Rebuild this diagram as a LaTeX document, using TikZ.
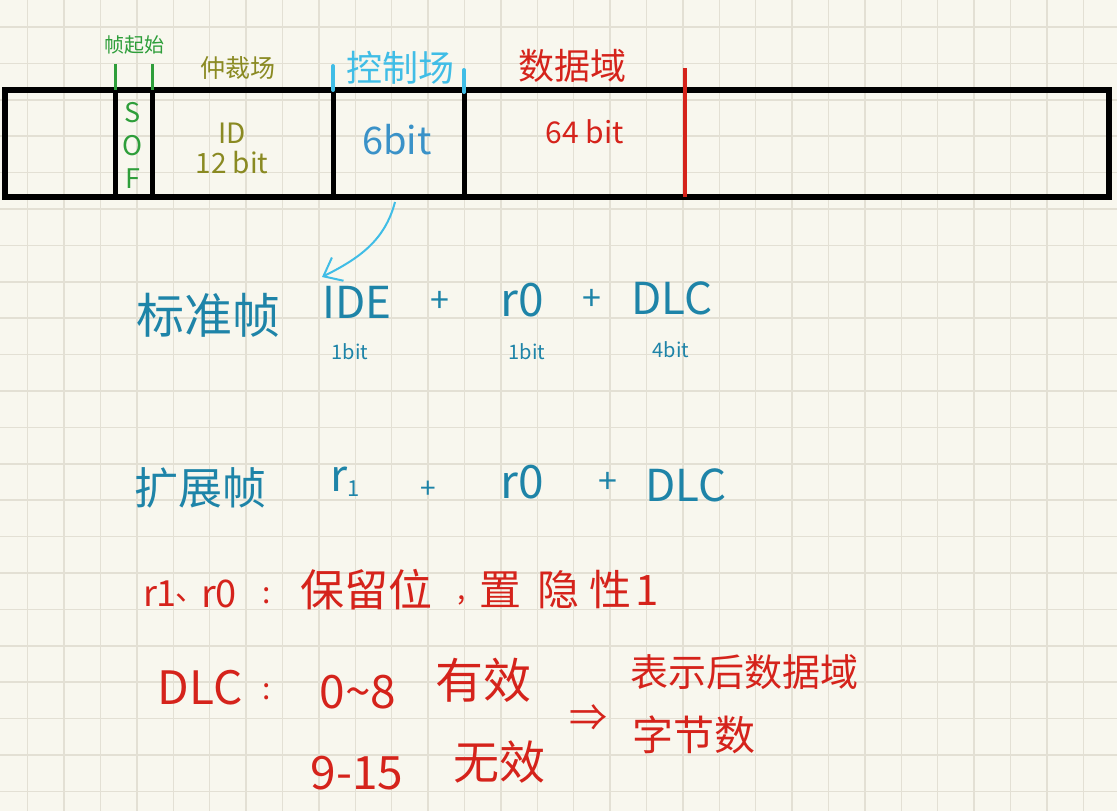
\documentclass[tikz,border=0pt]{standalone}
\usepackage{fontspec}
\setmainfont{Noto Sans CJK SC}
\usetikzlibrary{arrows.meta}
\definecolor{paper}{HTML}{F8F7EE}
\definecolor{gridc}{HTML}{E3E0D4}
\definecolor{sofgreen}{HTML}{2E9E3A}
\definecolor{inkolive}{HTML}{8A8A22}
\definecolor{ctrlcyan}{HTML}{40BDE6}
\definecolor{bitblue}{HTML}{3A92C8}
\definecolor{inkteal}{HTML}{1E84A8}
\definecolor{inkred}{HTML}{D5231B}
\newcommand{\myfs}[1]{\fontsize{#1}{#1}\selectfont}
\newcommand{\lowone}{\raisebox{-0.12em}{\myfs{22}1}}
\begin{document}
\begin{tikzpicture}[x=1pt,y=-1pt,
  frame/.style={draw=black,line width=6pt},
  divider/.style={draw=black,line width=5pt},
  txt/.style={inner sep=0pt,anchor=center},
  greentxt/.style={txt,text=sofgreen},
  olivetxt/.style={txt,text=inkolive},
  cyantxt/.style={txt,text=ctrlcyan},
  tealtxt/.style={txt,text=inkteal},
  redtxt/.style={txt,text=inkred}]
\fill[paper] (0,0) rectangle (1117,811);
\useasboundingbox (0,0) rectangle (1117,811);
\foreach \i in {0,...,29} \draw[gridc,line width=1.5pt] ({27.7+36.4*\i},0) -- ++(0,811);
\foreach \j in {0,...,21} \draw[gridc,line width=1.5pt] (0,{27+36.4*\j}) -- ++(1117,0);

% frame
\draw[frame] (5,90) rectangle (1109,197);
\draw[divider] (115,90) -- (115,197);
\draw[divider] (152,90) -- (152,197);
\draw[divider] (333,90) -- (333,197);
\draw[divider] (464,90) -- (464,197);
\draw[inkred,line width=4pt] (685,68) -- (685,197);
% ticks
\draw[sofgreen,line width=3pt] (115,64) -- (115,90);
\draw[sofgreen,line width=3pt] (152,64) -- (152,90);
\draw[ctrlcyan,line width=4pt,line cap=round] (333,66) -- (333,90);
\draw[ctrlcyan,line width=4pt,line cap=round] (464,70) -- (464,92);

% top labels
\node[greentxt] (sofl) at (134,45) {\myfs{20}帧起始};
\node[olivetxt] (arbl) at (238,68) {\myfs{25}仲裁场};
\node[cyantxt] (ctrll) at (400,68) {\myfs{36}控制场};
\node[redtxt] (datal) at (572,66) {\myfs{36}数据域};

% inside frame
\node[greentxt,align=center,font=\fontsize{27}{33}\selectfont] (sof) at (133,145) {S\\O\\F};
\node[olivetxt,align=center,font=\fontsize{28}{30}\selectfont] (id) at (232,148) {ID\\12 bit};
\node[txt,text=bitblue] (sixbit) at (397,140) {\myfs{38}6bit};
\node[redtxt] (databits) at (585,132) {\myfs{30}64 bit};

% arrow
\coordinate (ctrlbot) at (395,202);
\coordinate (arrtip) at (322,277);
\draw[ctrlcyan,line width=2pt,-{Straight Barb[length=16pt,width=26pt]}] (ctrlbot) .. controls (385,240) and (360,258) .. (arrtip);

% standard frame
\node[tealtxt] (std) at (208,315) {\myfs{48}标准帧};
\node[tealtxt] (ide) at (357,302) {\myfs{44}IDE};
\node[tealtxt] (p1) at (440,302) {\myfs{34}+};
\node[tealtxt] (rz) at (522,300) {\myfs{46}r0};
\node[tealtxt] (p2) at (592,300) {\myfs{34}+};
\node[tealtxt] (dlc) at (672,298) {\myfs{44}DLC};
\node[tealtxt] (b1) at (350,352) {\myfs{20}1bit};
\node[tealtxt] (b2) at (527,352) {\myfs{20}1bit};
\node[tealtxt] (b3) at (671,350) {\myfs{20}4bit};

% extended frame
\node[tealtxt] (ext) at (200,488) {\myfs{44}扩展帧};
\node[tealtxt] (rone) at (345,482) {\myfs{44}r\lowone};
\node[tealtxt] (p3) at (428,490) {\myfs{28}+};
\node[tealtxt] (rz2) at (522,482) {\myfs{46}r0};
\node[tealtxt] (p4) at (608,483) {\myfs{34}+};
\node[tealtxt] (dlc2) at (686,485) {\myfs{44}DLC};

% red notes: reserved bits
\node[redtxt] (rone2) at (160,594) {\myfs{36}r1};
\node[redtxt] (dun) at (190,598) {\myfs{30}、};
\node[redtxt] (rz3) at (219,594) {\myfs{38}r0};
\node[redtxt] (c1) at (267,596) {\myfs{30}:};
\node[redtxt] (resv) at (366,590) {\myfs{44}保留位};
\node[redtxt] (cm) at (462,600) {\myfs{30},};
\node[redtxt] (rec) at (569,590) {\myfs{42}置\hspace{16pt}隐\hspace{10pt}性\hspace{4pt}1};

% red notes: DLC
\node[redtxt] (dlc3) at (200,688) {\myfs{46}DLC};
\node[redtxt] (c2) at (267,692) {\myfs{30}:};
\node[redtxt] (r08) at (358,692) {\myfs{46}0\textasciitilde 8};
\node[redtxt] (valid) at (483,680) {\myfs{48}有效};
\node[redtxt] (r915) at (357,773) {\myfs{46}9-15};
\node[redtxt] (invalid) at (499,762) {\myfs{46}无效};
\node[redtxt] (imp) at (588,718) {\myfs{38}⇒};
\node[redtxt,anchor=west] (mean1) at (630,672) {\myfs{38}表示后数据域};
\node[redtxt,anchor=west] (mean2) at (632,735) {\myfs{41}字节数};
\end{tikzpicture}
\end{document}
